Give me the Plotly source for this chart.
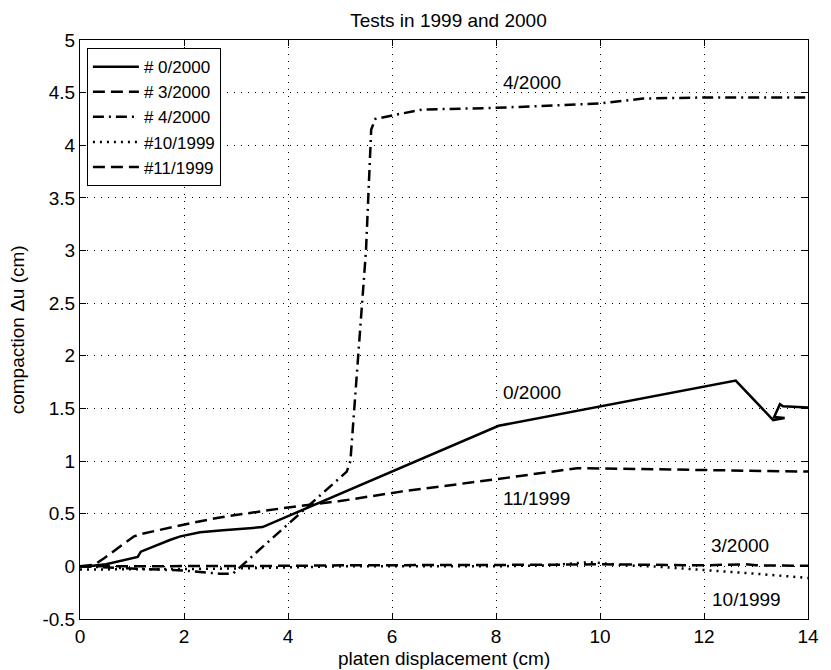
import plotly.graph_objects as go

# ---- data ----
s0_x = [0, 0.16, 0.5, 0.85, 1.11, 1.17, 1.49, 1.74, 1.93, 2.31, 2.75, 3.51, 8.05, 12.61, 13.33, 13.55, 13.35, 13.46, 13.52, 14.0]
s0_y = [0, 0.0, 0.02, 0.057, 0.089, 0.14, 0.206, 0.253, 0.285, 0.323, 0.342, 0.373, 1.335, 1.765, 1.39, 1.41, 1.42, 1.54, 1.52, 1.51]

s3_x = [0, 1, 2, 3, 4, 5, 6, 7, 8, 9, 10, 11, 12, 12.8, 13, 14]
s3_y = [0, 0.0, 0.005, 0.005, 0.005, 0.01, 0.01, 0.01, 0.01, 0.015, 0.02, 0.015, 0.01, 0.02, 0.01, 0.005]

s4_x = [0, 0.5, 1.17, 2.0, 2.69, 2.94, 3.5, 4.45, 5.13, 5.2, 5.35, 5.5, 5.6, 5.68, 6.02, 6.59, 7.98, 10.0, 10.83, 11.9, 14.0]
s4_y = [0, -0.01, -0.02, -0.04, -0.07, -0.07, 0.18, 0.6, 0.9, 1.0, 2.0, 3.0, 4.15, 4.25, 4.285, 4.34, 4.355, 4.397, 4.444, 4.453, 4.453]

s10_x = [0, 1, 2, 3, 4, 5, 6, 7, 8, 9, 9.8, 10.5, 11, 12, 12.5, 13, 13.5, 14]
s10_y = [-0.03, -0.03, -0.025, -0.02, -0.01, 0.0, 0.0, 0.0, 0.0, 0.01, 0.04, 0.01, 0.0, -0.035, -0.05, -0.07, -0.09, -0.11]

s11_x = [0, 0.28, 0.47, 0.73, 1.04, 1.2, 1.49, 1.99, 2.69, 4.0, 5.0, 6.17, 8.04, 9.56, 10.83, 14.0]
s11_y = [0, 0.016, 0.08, 0.175, 0.285, 0.31, 0.342, 0.396, 0.465, 0.56, 0.62, 0.71, 0.83, 0.933, 0.924, 0.9]

series_names = ["# 0/2000", "# 3/2000", "# 4/2000", "#10/1999", "#11/1999"]

label_text = ["4/2000", "0/2000", "11/1999", "3/2000", "10/1999"]
label_x = [8.1, 8.1, 8.1, 12.09, 12.12]
label_y = [4.6, 1.65, 0.64, 0.2, -0.31]

x_ticks = [0, 2, 4, 6, 8, 10, 12, 14]
y_ticks = [-0.5, 0, 0.5, 1, 1.5, 2, 2.5, 3, 3.5, 4, 4.5, 5]
y_tick_text = ["-0.5", "0", "0.5", "1", "1.5", "2", "2.5", "3", "3.5", "4", "4.5", "5"]

FONT = "Liberation Sans, Arial, Helvetica, sans-serif"
FS = 19

styles = ["solid", "12px,6px", "11px,5px,2px,5px", "2px,5px", "12px,6px"]
data = [(s0_x, s0_y), (s3_x, s3_y), (s4_x, s4_y), (s10_x, s10_y), (s11_x, s11_y)]

fig = go.Figure()
for (xs, ys), name, dash in zip(data, series_names, styles):
    fig.add_trace(go.Scatter(x=xs, y=ys, mode="lines", name=name,
                             line=dict(color="black", width=2.5, dash=dash)))

for t, x, y in zip(label_text, label_x, label_y):
    fig.add_annotation(x=x, y=y, text=t, showarrow=False, xanchor="left", yanchor="middle",
                       font=dict(family=FONT, size=FS, color="black"))

# axis titles as annotations (paper coordinates)
fig.add_annotation(x=0.5, y=-(658 - 619) / 579, xref="paper", yref="paper", text="platen displacement (cm)",
                   showarrow=False, xanchor="center", yanchor="middle",
                   font=dict(family=FONT, size=FS, color="black"))
fig.add_annotation(x=-(80 - 17) / 737, y=0.5, xref="paper", yref="paper", text="compaction Δu (cm)",
                   showarrow=False, xanchor="center", yanchor="middle", textangle=-90,
                   font=dict(family=FONT, size=FS, color="black"))

axis_common = dict(showline=True, linecolor="black", linewidth=1, mirror="ticks",
                   ticks="inside", ticklen=6, tickcolor="black",
                   showgrid=True, gridcolor="black", gridwidth=1, griddash="1px,6px",
                   zeroline=False, tickfont=dict(family=FONT, size=FS, color="black"))

fig.update_xaxes(range=[0, 14], tickvals=x_ticks, **axis_common)
fig.update_yaxes(range=[-0.5, 5], tickvals=y_ticks, ticktext=y_tick_text, **axis_common)

fig.update_layout(
    width=831, height=670,
    margin=dict(l=80, r=14, t=40, b=51),
    paper_bgcolor="white", plot_bgcolor="white",
    title=dict(text="Tests in 1999 and 2000", x=(80 + 817) / 2 / 831, xanchor="center", y=1 - 20 / 670, yanchor="middle",
               yref="container", font=dict(family=FONT, size=FS, color="black")),
    legend=dict(x=0.0095, y=0.986, xanchor="left", yanchor="top", bgcolor="white",
                bordercolor="black", borderwidth=1, font=dict(family=FONT, size=17, color="black"),
                tracegroupgap=0, itemwidth=46),
    showlegend=True,
)

fig.write_html("out.html")
